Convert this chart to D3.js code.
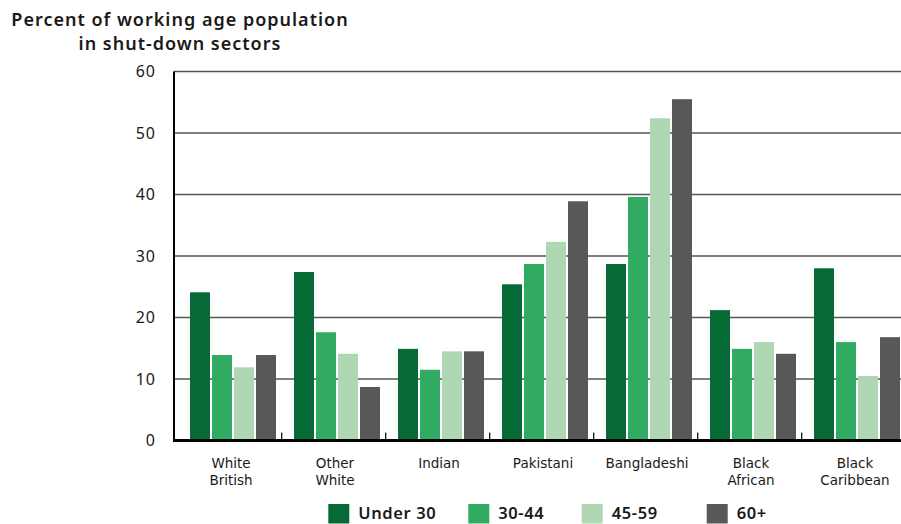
<!DOCTYPE html>
<html>
<head>
<meta charset="utf-8">
<script src="https://cdn.jsdelivr.net/npm/d3@7"></script>
<style>
  html, body { margin: 0; padding: 0; background: #fff; }
  svg { display: block; font-family: "Noto Sans", "Open Sans", sans-serif; }
</style>
</head>
<body>
<svg id="chart" width="901" height="524"></svg>
<script>
const categories = [["White", "British"], ["Other", "White"], ["Indian"], ["Pakistani"], ["Bangladeshi"], ["Black", "African"], ["Black", "Caribbean"]];
const seriesNames = ["Under 30", "30-44", "45-59", "60+"];
const under30 = [24.1, 27.4, 14.9, 25.4, 28.7, 21.2, 28.0];
const age30to44 = [13.9, 17.6, 11.5, 28.7, 39.6, 14.9, 16.0];
const age45to59 = [11.9, 14.1, 14.5, 32.3, 52.4, 16.0, 10.5];
const age60plus = [13.9, 8.7, 14.5, 38.9, 55.5, 14.1, 16.8];
const yTicks = [0, 10, 20, 30, 40, 50, 60];
const titleLines = ["Percent of working age population", "in shut-down sectors"];
const colors = ["#066a37", "#31ab62", "#afd7b3", "#585856"];

const seriesValues = [under30, age30to44, age45to59, age60plus];
const catKeys = categories.map(c => c.join(" "));

const svg = d3.select("#chart");
const textColor = "#1a1a1a";

const x = d3.scaleBand().domain(catKeys).range([181, 909]).paddingInner(0).paddingOuter(0);
const xi = d3.scaleBand().domain(seriesNames).range([9, 95]).paddingInner(2 / 22).paddingOuter(0);
const y = d3.scaleLinear().domain([0, 60]).range([440.5, 71.5]);

// Title
svg.append("g").selectAll("text").data(titleLines).join("text")
  .attr("x", 180).attr("y", (d, i) => 26 + i * 23.5)
  .attr("text-anchor", "middle")
  .attr("font-size", 18).attr("font-weight", 600)
  .attr("letter-spacing", 1)
  .attr("fill", textColor)
  .text(d => d);

// Gridlines
svg.append("g").selectAll("line").data(yTicks.filter(t => t > 0)).join("line")
  .attr("x1", 174).attr("x2", 901)
  .attr("y1", d => y(d)).attr("y2", d => y(d))
  .attr("stroke", "#555").attr("stroke-width", 1.5);

// Y tick labels
svg.append("g").selectAll("text").data(yTicks).join("text")
  .attr("x", 156).attr("y", d => y(d))
  .attr("dy", "0.36em")
  .attr("text-anchor", "end")
  .attr("font-size", 16)
  .attr("letter-spacing", 1)
  .attr("fill", textColor)
  .text(d => d);

// Bars
const groups = svg.append("g").selectAll("g").data(catKeys).join("g")
  .attr("transform", d => `translate(${x(d)},0)`);
groups.selectAll("rect")
  .data((c, ci) => seriesNames.map((s, si) => ({ s, si, v: seriesValues[si][ci] })))
  .join("rect")
  .attr("x", d => xi(d.s))
  .attr("width", xi.bandwidth())
  .attr("y", d => y(d.v))
  .attr("height", d => y(0) - y(d.v))
  .attr("fill", d => colors[d.si]);

// Axes lines
svg.append("line").attr("x1", 174).attr("x2", 174).attr("y1", y(60)).attr("y2", y(0) + 1.5)
  .attr("stroke", "#000").attr("stroke-width", 2);
svg.append("line").attr("x1", 173).attr("x2", 901).attr("y1", y(0)).attr("y2", y(0))
  .attr("stroke", "#000").attr("stroke-width", 3);

// Category ticks (inward)
svg.append("g").selectAll("line").data(catKeys.slice(1)).join("line")
  .attr("x1", d => x(d) - 3.3).attr("x2", d => x(d) - 3.3)
  .attr("y1", y(0) - 8).attr("y2", y(0))
  .attr("stroke", "#000").attr("stroke-width", 1.2);

// Category labels
const labels = svg.append("g").selectAll("text").data(categories).join("text")
  .attr("text-anchor", "middle")
  .attr("font-family", "'DejaVu Sans', sans-serif")
  .attr("font-size", 13.5)
  .attr("fill", textColor)
  .attr("transform", (d, i) => `translate(${x(catKeys[i]) + x.bandwidth() / 2 - 2},468)`);
labels.selectAll("tspan").data(d => d).join("tspan")
  .attr("x", 0).attr("y", (d, i) => i * 16.7)
  .text(d => d);

// Legend (fixed slots as in the original layout)
const legendSlots = [328.3, 468.3, 581.7, 706.7];
const legend = svg.append("g");
seriesNames.forEach((name, i) => {
  const lx = legendSlots[i];
  legend.append("rect").attr("x", lx).attr("y", 504).attr("width", 21).attr("height", 19.5)
    .attr("fill", colors[i]);
  legend.append("text").attr("x", lx + 30).attr("y", 519)
    .attr("font-size", 16.5).attr("font-weight", 600).attr("letter-spacing", 0.6)
    .attr("fill", textColor)
    .text(name);
});
</script>
</body>
</html>
